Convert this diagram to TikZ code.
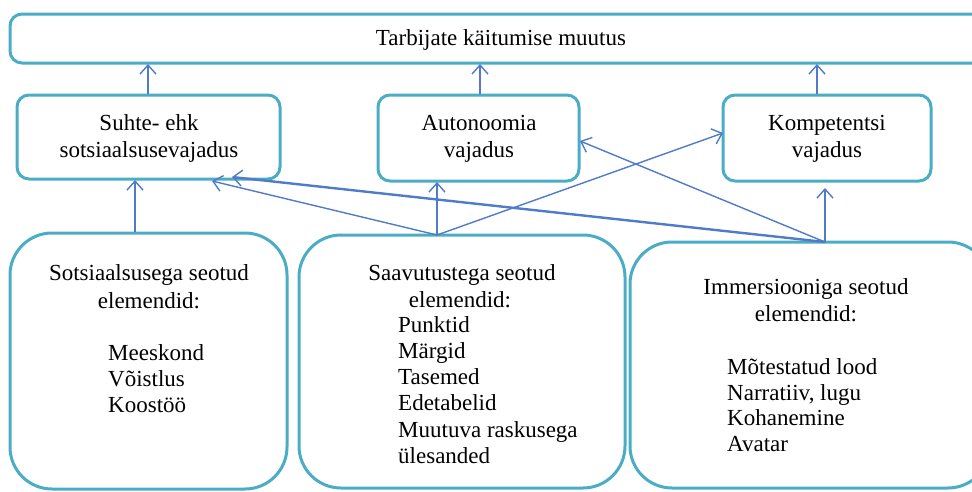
\documentclass[tikz,border=0pt]{standalone}
\usepackage{fontspec}
\setmainfont{Liberation Serif}
\usetikzlibrary{arrows.meta}
\definecolor{boxteal}{HTML}{4BACC6}
\definecolor{arrowblue}{HTML}{4F7BC8}
\tikzset{
  box/.style={draw=boxteal, line width=3pt, rounded corners=#1},
  box/.default=12pt,
  txt/.style={inner sep=0pt, font=\fontsize{23}{26.5}\selectfont},
  arr/.style={draw=arrowblue, line width=1.4pt, -{Straight Barb[length=9pt,width=16pt,line width=1.4pt]}},
  arrthick/.style={arr, line width=2.4pt},
}
\begin{document}
\begin{tikzpicture}[x=1pt,y=-1pt]
\useasboundingbox (0,0) rectangle (972,491);
\begin{scope}
\clip (0,0) rectangle (972,491);
% boxes
\draw[box] (10,14) rectangle (990,63);
\node[inner sep=0pt] (top) at (500,38.5) {};
\draw[box] (17,95) rectangle (280,179);
\draw[box] (378,95) rectangle (579,181);
\draw[box] (723,95) rectangle (931,181);
\draw[box=42pt] (10,233) rectangle (287,489);
\draw[box=42pt] (299,235) rectangle (625,488);
\draw[box=42pt] (630,242) rectangle (990,488);
\end{scope}

% texts
\node[txt, anchor=base] (toptext) at (501,45) {Tarbijate käitumise muutus};
\node[txt, anchor=base] (a1) at (149,130) {Suhte- ehk};
\node[txt, anchor=base] (a2) at (149,157) {sotsiaalsusevajadus};
\node[txt, anchor=base] (b1) at (479,130) {Autonoomia};
\node[txt, anchor=base] (b2) at (479,157) {vajadus};
\node[txt, anchor=base] (c1) at (827,130) {Kompetentsi};
\node[txt, anchor=base] (c2) at (827,157) {vajadus};

\node[txt, anchor=base] (d1) at (149,280) {Sotsiaalsusega seotud};
\node[txt, anchor=base] (d2) at (149,308) {elemendid:};
\node[txt, anchor=base west] (d3) at (108,360) {Meeskond};
\node[txt, anchor=base west] (d4) at (108,386) {Võistlus};
\node[txt, anchor=base west] (d5) at (108,412) {Koostöö};

\node[txt, anchor=base] (e1) at (462,280) {Saavutustega seotud};
\node[txt, anchor=base] (e2) at (460,307) {elemendid:};
\node[txt, anchor=base west] (e3) at (398,332) {Punktid};
\node[txt, anchor=base west] (e4) at (398,358) {Märgid};
\node[txt, anchor=base west] (e5) at (398,384) {Tasemed};
\node[txt, anchor=base west] (e6) at (398,410) {Edetabelid};
\node[txt, anchor=base west] (e7) at (398,437) {Muutuva raskusega};
\node[txt, anchor=base west] (e8) at (398,463) {ülesanded};

\node[txt, anchor=base] (f1) at (806,294) {Immersiooniga seotud};
\node[txt, anchor=base] (f2) at (806,321) {elemendid:};
\node[txt, anchor=base west] (f3) at (727,374) {Mõtestatud lood};
\node[txt, anchor=base west] (f4) at (727,400) {Narratiiv, lugu};
\node[txt, anchor=base west] (f5) at (727,425) {Kohanemine};
\node[txt, anchor=base west] (f6) at (727,451) {Avatar};

% connector end points on the box edges
\coordinate (aTop) at (148,94);
\coordinate (bTop) at (480,94);
\coordinate (cTop) at (817,94);
\coordinate (topA) at (148,64);
\coordinate (topB) at (480,64);
\coordinate (topC) at (817,64);
\coordinate (aBotD) at (135,180);
\coordinate (aBotE) at (212,181);
\coordinate (aBotF) at (232,177);
\coordinate (bBot) at (437,182);
\coordinate (bRight) at (580,141);
\coordinate (cLeft) at (723,133);
\coordinate (cBot) at (825,188);
\coordinate (dTop) at (135,232);
\coordinate (eTop) at (437,235);
\coordinate (fTop) at (825,242);

% connectors
\draw[arr] (aTop) -- (topA);
\draw[arr] (bTop) -- (topB);
\draw[arr] (cTop) -- (topC);
\draw[arrthick] (dTop) -- (aBotD);
\draw[arr] (eTop) -- (aBotE);
\draw[arr] (eTop) -- (bBot);
\draw[arr] (eTop) -- (cLeft);
\draw[arrthick] (fTop) -- (aBotF);
\draw[arr] (fTop) -- (bRight);
\draw[arr] (fTop) -- (cBot);
\end{tikzpicture}
\end{document}
